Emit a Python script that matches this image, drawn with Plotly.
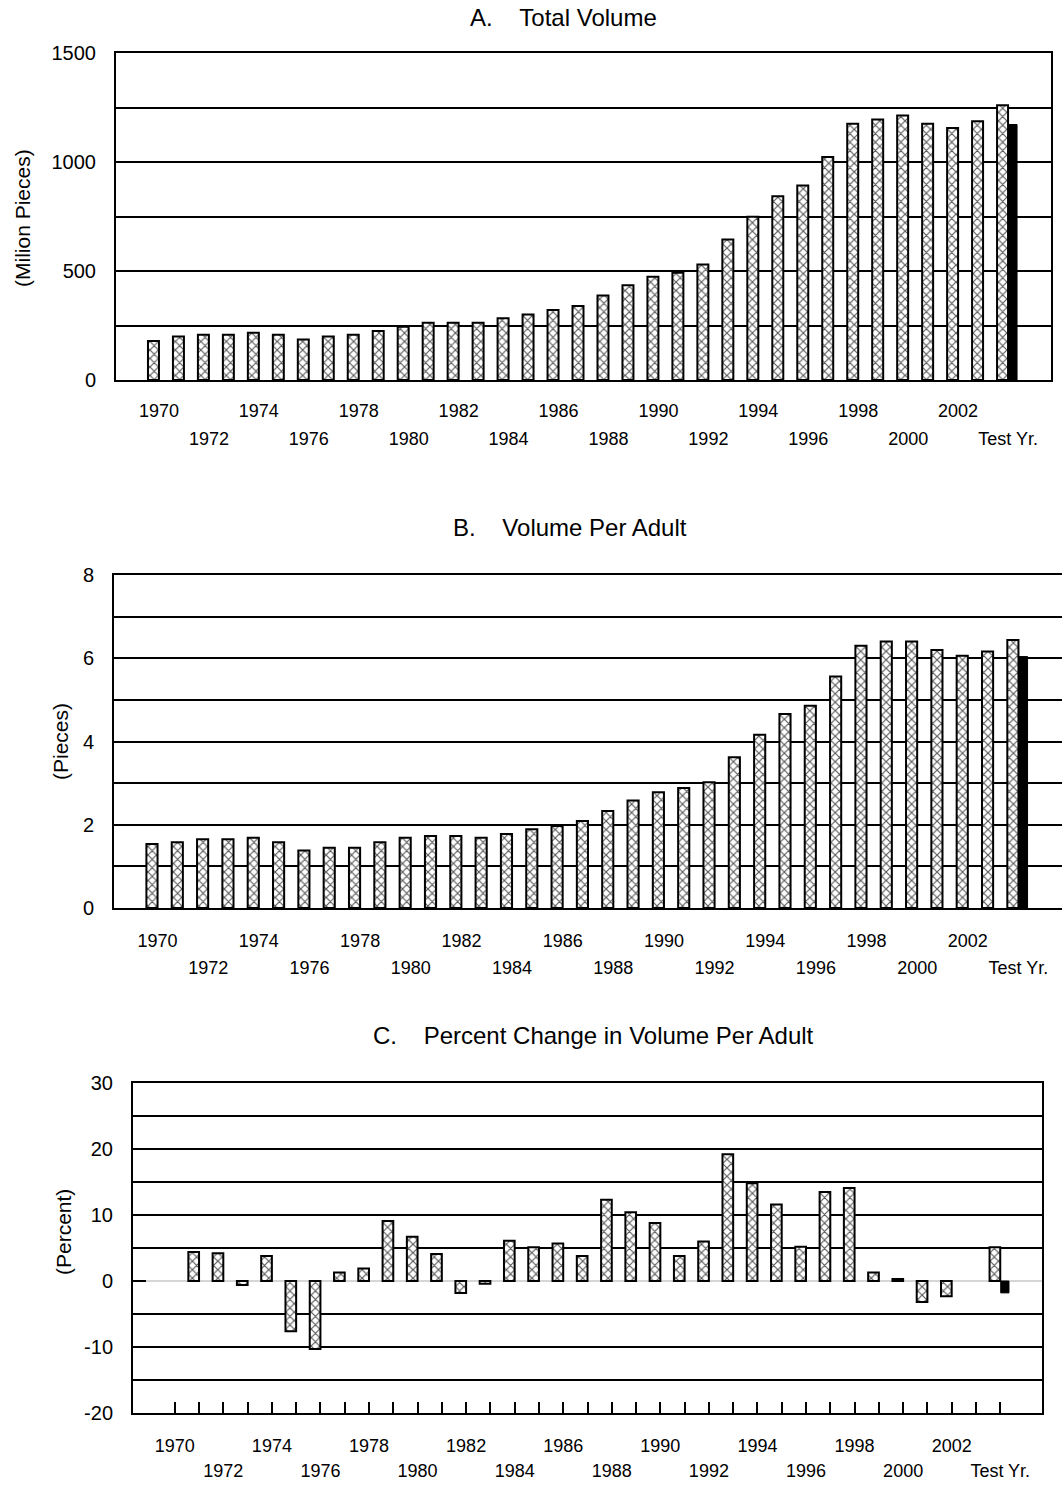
import plotly.graph_objects as go

# ---------------- data ----------------
categories = [str(y) for y in range(1970, 2004)] + ["Test Yr."]
tick_labels_row1 = ["1970", "1974", "1978", "1982", "1986", "1990", "1994", "1998", "2002"]
tick_labels_row2 = ["1972", "1976", "1980", "1984", "1988", "1992", "1996", "2000", "Test Yr."]

total_volume = [179, 199, 208, 208, 217, 208, 186, 199, 208, 225, 244, 263, 263, 263,
                283, 301, 321, 339, 388, 435, 474, 492, 530, 645, 749, 843, 892, 1023,
                1176, 1195, 1213, 1176, 1156, 1187, 1260]
total_volume_test = [1172]

volume_per_adult = [1.54, 1.58, 1.65, 1.65, 1.69, 1.58, 1.38, 1.45, 1.45, 1.58, 1.69,
                    1.73, 1.73, 1.69, 1.78, 1.89, 1.97, 2.09, 2.33, 2.58, 2.78, 2.88,
                    3.02, 3.62, 4.16, 4.66, 4.86, 5.56, 6.30, 6.40, 6.40, 6.20, 6.06,
                    6.16, 6.44]
volume_per_adult_test = [6.04]

pct_change = [None, 4.4, 4.2, -0.6, 3.8, -7.6, -10.3, 1.3, 1.9, 9.1, 6.7, 4.1, -1.8,
              -0.4, 6.1, 5.1, 5.7, 3.8, 12.3, 10.4, 8.8, 3.8, 6.0, 19.2, 14.8, 11.6,
              5.2, 13.5, 14.1, 1.3, 0.3, -3.2, -2.3, None, 5.1]
pct_change_test = [-1.8]

ytick_a = [0, 500, 1000, 1500]
ytick_b = [0, 2, 4, 6, 8]
ytick_c = [-20, -10, 0, 10, 20, 30]

# ---------------- helpers ----------------
FONT = "Liberation Sans, Arial, sans-serif"
idx = list(range(len(categories)))
row1_idx = [categories.index(t) for t in tick_labels_row1]
row2_idx = [categories.index(t) for t in tick_labels_row2]

W, H = 1062, 1485


def px_x(p):
    return p / W


def px_y(p):
    return 1 - p / H


hatch = dict(color="white", line=dict(color="black", width=2),
             pattern=dict(shape="x", fgcolor="#5a5a5a", bgcolor="white", size=6, solidity=0.35))
solid = dict(color="black", line=dict(color="black", width=1))

fig = go.Figure()

panels = [
    ("x", "y", "x4", total_volume, total_volume_test),
    ("x2", "y2", "x5", volume_per_adult, volume_per_adult_test),
    ("x3", "y3", "x6", pct_change, pct_change_test),
]
for xa, ya, xb, vals, test in panels:
    fig.add_trace(go.Bar(x=idx, y=vals, xaxis=xa, yaxis=ya, width=0.44, offset=-0.44,
                         marker=hatch, showlegend=False))
    fig.add_trace(go.Bar(x=[idx[-1]], y=test, xaxis=xa, yaxis=ya, width=0.34, offset=0.02,
                         marker=solid, showlegend=False))
    # empty carrier trace so the second label row axis is drawn
    fig.add_trace(go.Scatter(x=row2_idx, y=[None] * len(row2_idx), xaxis=xb, yaxis=ya,
                             mode="markers", showlegend=False, hoverinfo="skip"))

XR = [-1.72, 35.72]
tfont = dict(family=FONT, size=18, color="black")
xcommon = dict(range=XR, showgrid=False, zeroline=False, showline=True,
               linecolor="black", linewidth=2, mirror=True, tickangle=0, automargin=False,
               tickfont=tfont)
xrow2 = dict(range=XR, showgrid=False, zeroline=False, showline=False, ticks="",
             tickangle=0, automargin=False, tickfont=tfont,
             tickvals=row2_idx, ticktext=tick_labels_row2)
grid = dict(showgrid=True, gridcolor="black", gridwidth=1.5, ticks="")
ycommon = dict(showgrid=False, showline=True, linecolor="black", linewidth=2, mirror=True,
               ticks="inside", ticklen=13, tickwidth=2, tickcolor="black", automargin=False,
               ticklabelstandoff=14, tickfont=dict(family=FONT, size=20, color="black"))

dom_a = [px_x(116), px_x(1051)]
dom_b = [px_x(114), 1.0]
dom_c = [px_x(133), px_x(1042)]

layout = dict(
    template="none",
    width=W, height=H, margin=dict(l=0, r=0, t=0, b=0, pad=0),
    paper_bgcolor="white", plot_bgcolor="white", barmode="overlay",
    font=dict(family=FONT, color="black"),
    xaxis=dict(domain=dom_a, anchor="y", tickvals=row1_idx, ticktext=tick_labels_row1,
               ticks="", ticklabelstandoff=13, **xcommon),
    xaxis4=dict(domain=dom_a, anchor="y", overlaying="x", ticklabelstandoff=46, **xrow2),
    yaxis=dict(domain=[px_y(380), px_y(53)], anchor="x", range=[0, 1500],
               tickvals=ytick_a, ticktext=[str(v) for v in ytick_a], zeroline=False,
               minor=dict(tickvals=[250, 500, 750, 1000, 1250], **grid), **ycommon),
    xaxis2=dict(domain=dom_b, anchor="y2", tickvals=row1_idx, ticktext=tick_labels_row1,
                ticks="", ticklabelstandoff=15, **xcommon),
    xaxis5=dict(domain=dom_b, anchor="y2", overlaying="x2", ticklabelstandoff=47, **xrow2),
    yaxis2=dict(domain=[px_y(908), px_y(575)], anchor="x2", range=[0, 8],
                tickvals=ytick_b, ticktext=[str(v) for v in ytick_b], zeroline=False,
                minor=dict(tickvals=[1, 2, 3, 4, 5, 6, 7], **grid), **ycommon),
    xaxis3=dict(domain=dom_c, anchor="y3", tickvals=idx,
                ticktext=[tick_labels_row1[row1_idx.index(i)] if i in row1_idx else "" for i in idx],
                ticks="inside", ticklen=11, tickwidth=1.5, tickcolor="black",
                ticklabelstandoff=15, **xcommon),
    xaxis6=dict(domain=dom_c, anchor="y3", overlaying="x3", ticklabelstandoff=45, **xrow2),
    yaxis3=dict(domain=[px_y(1413), px_y(1083)], anchor="x3", range=[-20, 30],
                tickvals=ytick_c, ticktext=[str(v) for v in ytick_c], zeroline=True,
                zerolinecolor="#d6d6d6", zerolinewidth=1.5,
                minor=dict(tickvals=[-15, -10, -5, 5, 10, 15, 20, 25], **grid), **ycommon),
)
fig.update_layout(**layout)

nb = "\u00a0\u00a0\u00a0\u00a0"
titles = [
    ("A." + nb + "Total Volume", 563, 18),
    ("B." + nb + "Volume Per Adult", 570, 527),
    ("C." + nb + "Percent Change in Volume Per Adult", 593, 1035),
]
for txt, cx, cy in titles:
    fig.add_annotation(text=txt, x=px_x(cx), y=px_y(cy), xref="paper", yref="paper",
                       showarrow=False, xanchor="center", yanchor="middle",
                       font=dict(family=FONT, size=24, color="black"))

ytitles = [
    ("(Milion Pieces)", 22, 218),
    ("(Pieces)", 60, 742),
    ("(Percent)", 63, 1232),
]
for txt, cx, cy in ytitles:
    fig.add_annotation(text=txt, x=px_x(cx), y=px_y(cy), xref="paper", yref="paper",
                       showarrow=False, xanchor="center", yanchor="middle", textangle=-90,
                       font=dict(family=FONT, size=21, color="black"))

fig.write_html("out.html", config={"displayModeBar": False},
               post_script="document.body.style.margin='0px';")
